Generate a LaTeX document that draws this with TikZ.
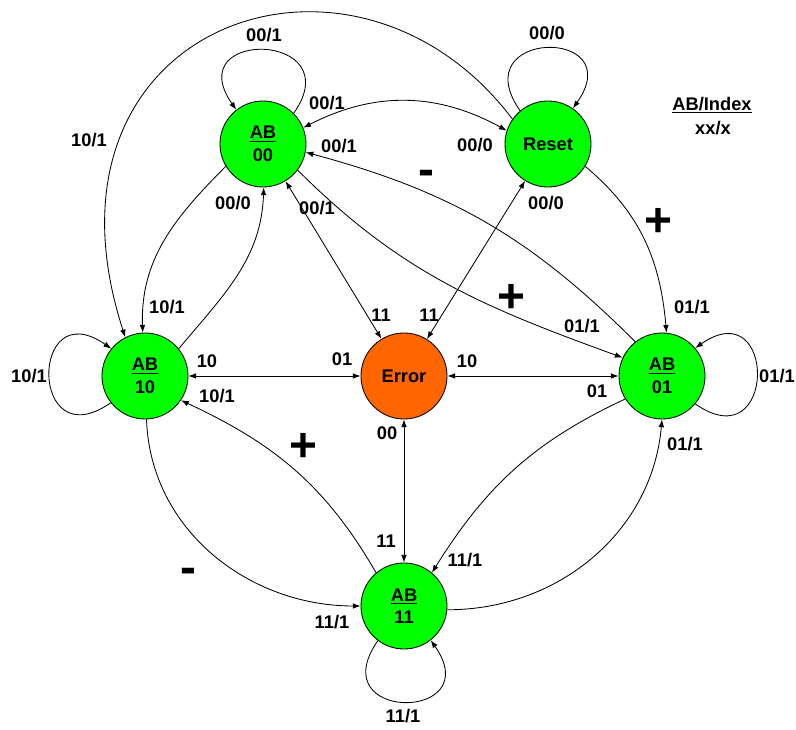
\documentclass[tikz,border=0pt]{standalone}
\usepackage{fontspec}
\setmainfont{Liberation Sans}
\usetikzlibrary{arrows.meta}
\definecolor{stgreen}{HTML}{00FF00}
\definecolor{sterr}{HTML}{FF6600}
\begin{document}
\begin{tikzpicture}[x=0.025cm,y=0.025cm,
  state/.style={circle,draw=black,line width=0.6pt,fill=stgreen,minimum size=2.15cm,inner sep=0pt,align=center,font=\fontsize{13}{16}\selectfont\bfseries},
  errstate/.style={state,fill=sterr},
  lbl/.style={font=\fontsize{13}{15}\selectfont\bfseries,inner sep=0pt},
  sgn/.style={font=\fontsize{34}{34}\selectfont\bfseries,inner sep=0pt},
  tr/.style={line width=0.6pt,-{Latex[length=5.5pt,width=4pt]}},
  bi/.style={line width=0.6pt,{Latex[length=5.5pt,width=4pt]}-{Latex[length=5.5pt,width=4pt]}},
  selfloop/.style={tr,distance=2.5cm},
]
\useasboundingbox (0,0) rectangle (796,-730);

% states
\node[state] (n00) at (263,-144) {\underline{AB}\\00};
\node[state] (rst) at (548,-144) {Reset};
\node[state] (n10) at (145,-376) {\underline{AB}\\10};
\node[errstate] (err) at (404,-376) {Error};
\node[state] (n01) at (662,-376) {\underline{AB}\\01};
\node[state] (n11) at (404,-606) {\underline{AB}\\11};

% self loops
\draw[selfloop] (n00.45) to[out=55,in=125] (n00.128);
\draw[selfloop] (rst.130) to[out=125,in=55] (rst.55);
\draw[selfloop] (n01.-40) to[out=-35,in=35] (n01.40);
\draw[selfloop] (n10.218) to[out=215,in=145] (n10.141);
\draw[selfloop] (n11.233) to[out=235,in=305] (n11.308);

% AB00 <-> Reset
\draw[bi] (n00.22) to[bend left=28] (rst.162);
% Reset -> AB10 (big arc)
\draw[tr] (rst.145) to[out=127,in=108,out distance=6.6cm,in distance=8.25cm] (n10.117);
% AB00 -> AB10, AB10 -> AB00
\draw[tr] (n00.211) to[out=225,in=92] (n10.93);
\draw[tr] (n10.39) to[out=50,in=268] (n00.271);
% to and from Error
\draw[bi] (n00) -- (err);
\draw[bi] (rst) -- (err);
\draw[bi] (n10) -- (err);
\draw[bi] (err) -- (n01);
\draw[bi] (err) -- (n11);
% AB00 <-> AB01
\draw[tr] (n00.323) to[out=-45,in=160] (n01.155);
\draw[tr] (n01.128) to[out=135,in=-15] (n00.-11);
% Reset -> AB01
\draw[tr] (rst.-31) to[out=-40,in=95] (n01.84);
% AB11 <-> AB10
\draw[tr] (n11.130) to[out=120,in=-25] (n10.-34);
\draw[tr] (n10.-88) to[out=-88,in=180] (n11.180);
% AB01 <-> AB11
\draw[tr] (n01.212) to[out=205,in=58] (n11.50);
\draw[tr] (n11.-5) to[out=0,in=-95] (n01.-90);

% labels
\node[lbl] (a1) at (264,-35) {00/1};
\node[lbl] (a2) at (547,-33) {00/0};
\node[lbl] (a3) at (327,-103) {00/1};
\node[lbl] (a4) at (339,-146) {00/1};
\node[lbl] (a5) at (475,-145) {00/0};
\node[lbl] (a6) at (233,-203) {00/0};
\node[lbl] (a7) at (317,-208) {00/1};
\node[lbl] (a8) at (546,-203) {00/0};
\node[lbl] (a9) at (89,-140) {10/1};
\node[lbl] (a10) at (167,-307) {10/1};
\node[lbl] (a11) at (29,-376) {10/1};
\node[lbl] (a12) at (207,-361) {10};
\node[lbl] (a13) at (342,-359) {01};
\node[lbl] (a14) at (217,-396) {10/1};
\node[lbl] (a15) at (381,-315) {11};
\node[lbl] (a16) at (429,-315) {11};
\node[lbl] (a17) at (467,-361) {10};
\node[lbl] (a18) at (582,-326) {01/1};
\node[lbl] (a19) at (692,-307) {01/1};
\node[lbl] (a20) at (777,-376) {01/1};
\node[lbl] (a21) at (597,-391) {01};
\node[lbl] (a22) at (685,-444) {01/1};
\node[lbl] (a23) at (465,-560) {11/1};
\node[lbl] (a24) at (386,-541) {11};
\node[lbl] (a25) at (387,-433) {00};
\node[lbl] (a26) at (332,-622) {11/1};
\node[lbl] (a27) at (403,-716) {11/1};
% legend
\node[lbl] (lg1) at (712,-105) {\underline{AB/Index}};
\node[lbl] (lg2) at (713,-128) {xx/x};
% signs
\node[sgn] (s1) at (426,-178) {-};
\node[sgn] (s2) at (658,-222) {+};
\node[sgn] (s3) at (511,-298) {+};
\node[sgn] (s4) at (303,-447) {+};
\node[sgn] (s5) at (188,-576) {-};
\end{tikzpicture}
\end{document}
